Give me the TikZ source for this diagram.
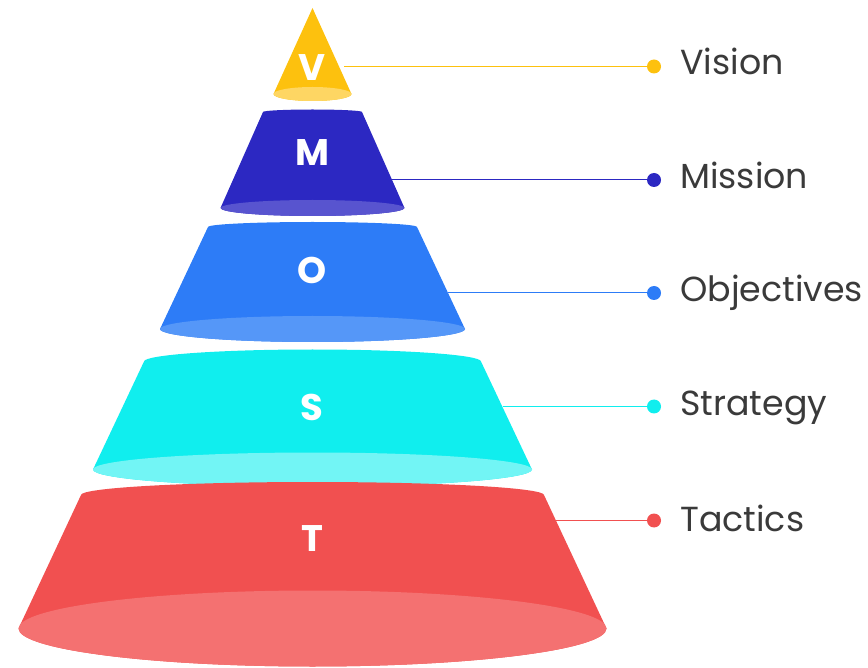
\documentclass[tikz,border=0pt]{standalone}
\usepackage{fontspec}
\setmainfont{Poppins}
\usetikzlibrary{calc}

\definecolor{visC}{HTML}{FDC10E}\definecolor{visL}{HTML}{FED663}
\definecolor{misC}{HTML}{2C28C2}\definecolor{misL}{HTML}{5854CF}
\definecolor{objC}{HTML}{2D7CF7}\definecolor{objL}{HTML}{5597F8}
\definecolor{strC}{HTML}{10EEEE}\definecolor{strL}{HTML}{72F5F5}
\definecolor{tacC}{HTML}{F15050}\definecolor{tacL}{HTML}{F47171}
\definecolor{txtC}{HTML}{3A3A3A}

% frustum: #1 cx, #2 top y, #3 top rx, #4 top ry, #5 bottom y, #6 bottom rx, #7 bottom ry, #8 body, #9 base
\newcommand\frustum[9]{%
  \fill[#8] (#1-#3,#2) arc[start angle=180, end angle=0, x radius=#3pt, y radius=#4pt]
    -- (#1+#6,#5) arc[start angle=0, end angle=-180, x radius=#6pt, y radius=#7pt] -- cycle;
  \fill[#9] (#1,#5) ellipse[x radius=#6pt, y radius=#7pt];
}

\tikzset{
  letter/.style={text=white, font=\fontsize{37}{40}\selectfont\bfseries, inner sep=0pt, anchor=center},
  label/.style={text=txtC, font=\fontsize{34.8}{38}\selectfont, inner sep=0pt, anchor=base west},
  dot/.style={circle, fill=#1, inner sep=0pt, minimum size=14pt},
  leader/.style={draw=#1, line width=1pt},
}

\begin{document}
\begin{tikzpicture}[x=1pt, y=-1pt]
\useasboundingbox (0,0) rectangle (868,668);

% Vision: cone
\fill[visC] (312.5,8) -- (351.5,94) arc[start angle=0, end angle=-180, x radius=39pt, y radius=7pt] -- cycle;
\fill[visL] (312.5,94) ellipse[x radius=39pt, y radius=7pt];

% lower tiers, each drawn over the one above
\frustum{312.5}{112}{49.5}{2.5}{208}{92}{8}{misC}{misL}
\frustum{312.5}{227}{104.5}{5}{329}{152.5}{13}{objC}{objL}
\frustum{312.5}{361.5}{168.5}{12}{469.5}{219.5}{17}{strC}{strL}
\frustum{312.5}{495}{231.5}{13}{628.5}{294}{38}{tacC}{tacL}

% letters on the tiers
\node[letter] (lv) at (312,68) {V};
\node[letter] (lm) at (312,153) {M};
\node[letter] (lo) at (312,270) {O};
\node[letter] (ls) at (312,407) {S};
\node[letter] (lt) at (312,539) {T};

% leader start points on the cone surfaces
\coordinate (ev) at (344,66.5);
\coordinate (em) at (392,180);
\coordinate (eo) at (448,293);
\coordinate (es) at (502.5,406.5);
\coordinate (et) at (556,520.5);

% end dots
\coordinate (pv) at (654,66.5);
\coordinate (pm) at (654,180);
\coordinate (po) at (654,293);
\coordinate (ps) at (654,406.5);
\coordinate (pt) at (654,520.5);

\draw[leader=visC] (ev) -- (pv);
\draw[leader=misC] (em) -- (pm);
\draw[leader=objC] (eo) -- (po);
\draw[leader=strC] (es) -- (ps);
\draw[leader=tacC] (et) -- (pt);
\node[dot=visC] (dv) at (pv) {};
\node[dot=misC] (dm) at (pm) {};
\node[dot=objC] (do) at (po) {};
\node[dot=strC] (ds) at (ps) {};
\node[dot=tacC] (dt) at (pt) {};

% labels
\node[label] (tv) at (680,75) {Vision};
\node[label] (tm) at (680,188.5) {Mission};
\node[label] (to) at (680,302) {Objectives};
\node[label] (ts) at (680,415.5) {Strategy};
\node[label] (tt) at (680,531) {Tactics};
\end{tikzpicture}
\end{document}
